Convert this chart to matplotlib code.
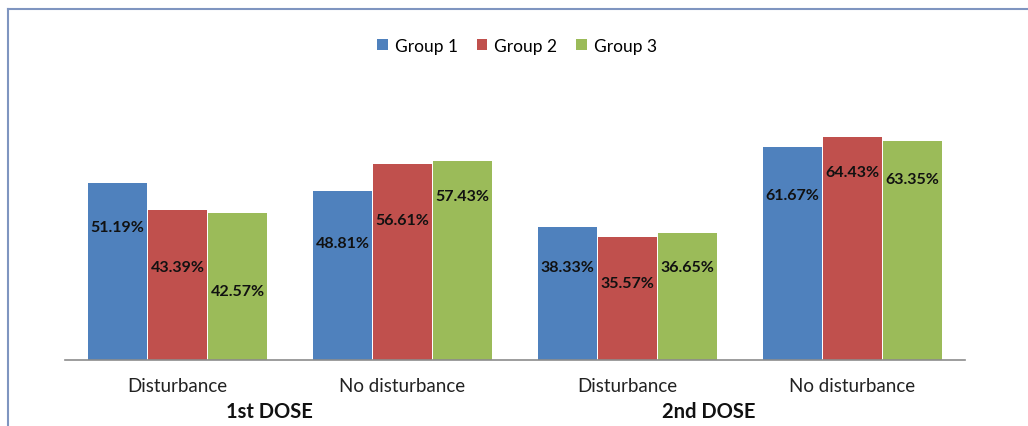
import matplotlib
matplotlib.use("Agg")
import matplotlib.pyplot as plt
import numpy as np

categories = ["Disturbance", "No disturbance", "Disturbance", "No disturbance"]
doses = ["1st DOSE", "2nd DOSE"]
groups = ["Group 1", "Group 2", "Group 3"]
group1 = [51.19, 48.81, 38.33, 61.67]
group2 = [43.39, 56.61, 35.57, 64.43]
group3 = [42.57, 57.43, 36.65, 63.35]
labels1 = ["51.19%", "48.81%", "38.33%", "61.67%"]
labels2 = ["43.39%", "56.61%", "35.57%", "64.43%"]
labels3 = ["42.57%", "57.43%", "36.65%", "63.35%"]

# label vertical positions (data units), as placed in the original
label_y1 = [38.5, 33.8, 27.0, 47.7]
label_y2 = [26.9, 40.5, 22.4, 54.5]
label_y3 = [20.0, 47.4, 27.0, 52.3]

colors = ["#4F81BD", "#C0504D", "#9BBB59"]
plt.rcParams['font.family'] = ['Lato', 'DejaVu Sans']

fig = plt.figure(figsize=(10.28, 4.27), dpi=100)
ax = fig.add_axes([65/1028, 66/427, 900/1028, 242/427])

x = np.arange(len(categories))
offsets = [-0.267, 0.0, 0.267]
width = 0.262
series = [group1, group2, group3]
lbls = [labels1, labels2, labels3]
lys = [label_y1, label_y2, label_y3]
for s, (vals, off, c, name) in enumerate(zip(series, offsets, colors, groups)):
    ax.bar(x + off, vals, width, color=c, label=name, edgecolor="none", zorder=2)
    for xi, ly, t in zip(x + off, lys[s], lbls[s]):
        ax.text(xi, ly, t, ha="center", va="center", fontsize=11.5,
                fontweight="bold", color="#111111", zorder=3)

ax.set_xlim(-0.5, len(categories) - 0.5)
ax.set_ylim(0, 70)
ax.set_yticks([])
ax.set_xticks(x)
ax.set_xticklabels(categories, fontsize=13.5, color="#222222")
ax.tick_params(axis="x", length=0, pad=12)
for sp in ["top", "right", "left"]:
    ax.spines[sp].set_visible(False)
ax.spines["bottom"].set_color("#8c8c8c")
ax.spines["bottom"].set_linewidth(1.2)

for pos, d in zip([0.41, 2.36], doses):
    ax.text(pos, -0.21, d, transform=ax.get_xaxis_transform(), ha="center", va="center",
            fontsize=14.5, fontweight="bold", color="#111111")

leg = fig.legend(loc="center", bbox_to_anchor=(517/1028, 1 - 47/427), ncol=3,
                 frameon=False, fontsize=12.5, handlelength=0.6, handleheight=0.6,
                 handletextpad=0.4, columnspacing=1.1)

# outer frame (top and left edges)
fig.add_artist(plt.Line2D([8/1028, 1.0], [1 - 10/427, 1 - 10/427], color="#7f95c0", lw=1.5,
                          transform=fig.transFigure))
fig.add_artist(plt.Line2D([8/1028, 8/1028], [0, 1 - 10/427], color="#7f95c0", lw=1.5,
                          transform=fig.transFigure))

fig.savefig("out.png", dpi=100)
